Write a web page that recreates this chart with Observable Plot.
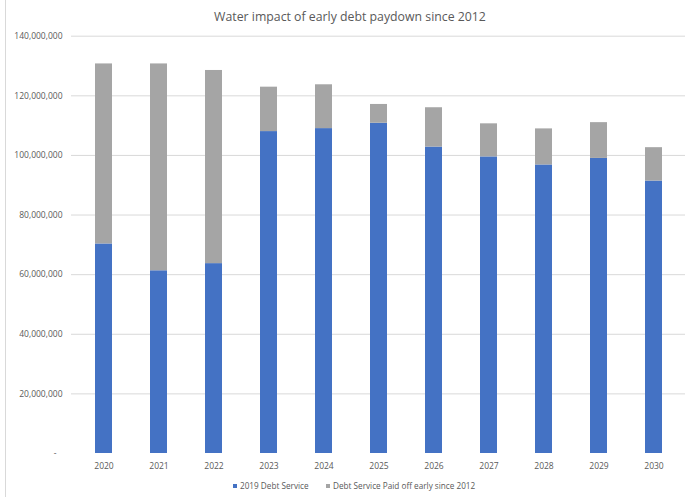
<!DOCTYPE html>
<html>
<head>
<meta charset="utf-8">
<script src="https://cdn.jsdelivr.net/npm/d3@7"></script>
<script src="https://cdn.jsdelivr.net/npm/@observablehq/plot@0.6"></script>
<style>
  html, body { margin: 0; padding: 0; background: #fff; }
  #wrap { position: relative; width: 692px; height: 497px; overflow: hidden; font-family: "Open Sans", sans-serif; }
  #border { position: absolute; left: 5px; top: 0; width: 0; height: 497px; border-left: 1px solid #d9d9d9; }
  #title { position: absolute; top: 7.5px; left: 0; width: 700px; text-align: center; font-size: 12.3px; line-height: normal; color: #595959; white-space: nowrap; }
  #chart { position: absolute; top: 0; left: 0; }
  .leg { position: absolute; top: 480px; font-size: 8.2px; line-height: normal; color: #595959; white-space: nowrap; }
  .sw { display: inline-block; width: 4px; height: 4px; margin-right: 3px; vertical-align: 1px; }
</style>
</head>
<body>
<div id="wrap">
  <div id="border"></div>
  <div id="chart"></div>
  <div id="title">Water impact of early debt paydown since 2012</div>
</div>
<script>
const years = ["2020","2021","2022","2023","2024","2025","2026","2027","2028","2029","2030"];
const seriesNames = ["2019 Debt Service", "Debt Service Paid off early since 2012"];
const debtService2019 = [70.3e6, 61.3e6, 63.7e6, 108.0e6, 109.0e6, 110.8e6, 102.8e6, 99.5e6, 96.8e6, 99.0e6, 91.4e6];
const paidOffEarly   = [60.4e6, 69.4e6, 64.8e6, 14.9e6, 14.7e6, 6.3e6, 13.2e6, 11.1e6, 12.1e6, 12.0e6, 11.2e6];
const yTicks = [0, 20e6, 40e6, 60e6, 80e6, 100e6, 120e6, 140e6];
const colors = ["#4472C4", "#A5A5A5"];

const data = [];
years.forEach((y, i) => {
  data.push({year: y, series: seriesNames[0], value: debtService2019[i]});
  data.push({year: y, series: seriesNames[1], value: paidOffEarly[i]});
});

const fmt = d3.format(",");
const chart = Plot.plot({
  width: 692,
  height: 475,
  marginLeft: 71,
  marginRight: 7,
  marginTop: 35.7,
  marginBottom: 22,
  style: {fontFamily: "Open Sans, sans-serif", fontSize: "8.5px", color: "#595959", background: "transparent"},
  x: {domain: years, paddingInner: 0.695, paddingOuter: 0.35, label: null},
  y: {domain: [0, 140e6], label: null},
  color: {domain: seriesNames, range: colors},
  marks: [
    Plot.gridY(yTicks.filter(d => d > 0), {stroke: "#d9d9d9", strokeOpacity: 1, strokeWidth: 1}),
    Plot.barY(data, {x: "year", y: "value", fill: "series", order: seriesNames}),
    Plot.ruleY([0], {stroke: "#d9d9d9", strokeWidth: 1, x1: 71, x2: 687}),
    Plot.axisY(yTicks.filter(d => d > 0), {tickSize: 0, tickPadding: 9, tickFormat: fmt, fill: "#595959", label: null}),
    Plot.text([0], {y: d => d, text: () => "-", frameAnchor: "left", dx: -15, textAnchor: "end", fill: "#595959"}),
    Plot.axisX({tickSize: 0, tickPadding: 9, fill: "#595959", label: null})
  ]
});
document.getElementById("chart").appendChild(chart);

const wrap = document.getElementById("wrap");
const legendLefts = [233, 326];
seriesNames.forEach((s, i) => {
  const item = document.createElement("div");
  item.className = "leg";
  item.style.left = legendLefts[i] + "px";
  const sw = document.createElement("span");
  sw.className = "sw";
  sw.style.background = colors[i];
  item.appendChild(sw);
  item.appendChild(document.createTextNode(s));
  wrap.appendChild(item);
});
</script>
</body>
</html>
